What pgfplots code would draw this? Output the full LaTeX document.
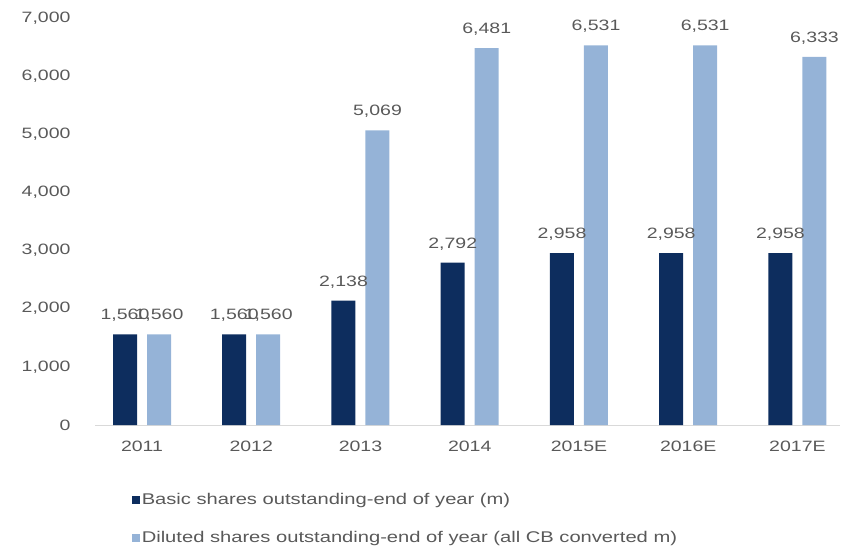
\documentclass[border=0pt]{standalone}
\usepackage{pgfplots}
\pgfplotsset{compat=1.18}
\usepackage{fontspec}
\setmainfont[FakeStretch=1.3]{Liberation Sans}
\definecolor{darkbar}{HTML}{0D2D5E}
\definecolor{lightbar}{HTML}{95B3D7}
\definecolor{txt}{HTML}{595959}
\definecolor{base}{HTML}{D9D9D9}
\begin{document}
\begin{tikzpicture}
\useasboundingbox (0pt,0pt) rectangle (843pt,550pt);
\begin{axis}[
  at={(142pt,125pt)}, anchor=origin,
  scale only axis, width=745pt, height=407pt,
  xmin=-0.43, xmax=6.39, ymin=0, ymax=7000,
  ybar, bar width=24pt,
  axis line style={draw=none},
  x axis line style={draw=base, line width=1pt},
  axis x line*=bottom, axis y line*=left,
  major tick length=0pt,
  xtick={0,1,2,3,4,5,6},
  xticklabels={2011,2012,2013,2014,2015E,2016E,2017E},
  ytick={0,1000,2000,3000,4000,5000,6000,7000},
  /pgf/number format/assume math mode=true,
  /pgf/number format/1000 sep={,},
  yticklabel style={font=\fontsize{15}{18}\selectfont, text=txt, xshift=-21pt},
  xticklabel style={font=\fontsize{15}{18}\selectfont, text=txt, yshift=-12pt},
  nodes near coords,
  nodes near coords style={font=\fontsize{15}{18}\selectfont, text=txt, /pgf/number format/1000 sep={,}, yshift=9pt},
  clip=false,
  legend style={at={(0.045,-0.158)}, anchor=north west, draw=none, fill=none,
    font=\fontsize{15.5}{18}\selectfont, text=txt, row sep=21pt, legend cell align=left},
  legend cell align=left,
  legend image code/.code={\fill[#1] (0pt,-4pt) rectangle (8pt,4pt);},
]
\addplot[fill=darkbar, draw=none, bar shift=-17pt] coordinates {(0,1560) (1,1560) (2,2138) (3,2792) (4,2958) (5,2958) (6,2958)};
\addplot[fill=lightbar, draw=none, bar shift=17pt] coordinates {(0,1560) (1,1560) (2,5069) (3,6481) (4,6531) (5,6531) (6,6333)};
\legend{Basic shares outstanding-end of year (m), Diluted shares outstanding-end of year (all CB converted m)}
\end{axis}
\end{tikzpicture}
\end{document}
